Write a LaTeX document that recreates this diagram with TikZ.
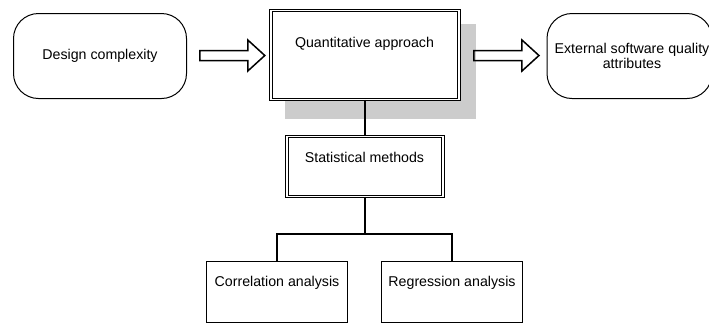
\documentclass[tikz,border=0pt]{standalone}
\usepackage{fontspec}
\setmainfont{Liberation Sans}
\usetikzlibrary{calc}
\begin{document}
\begin{tikzpicture}[x=1pt,y=-1pt,font=\fontsize{14.2}{15}\selectfont]
\tikzset{
  rbox/.style={draw, line width=1pt, rounded corners=25pt, inner sep=0pt, fill=white},
  dbox/.style={draw, double, double distance=1.6pt, line width=0.8pt, inner sep=0pt, fill=white},
  sbox/.style={draw, line width=1pt, inner sep=0pt, fill=white},
  conn/.style={line width=2pt},
  lbl/.style={inner sep=0pt, align=center},
  hollowarrow/.pic={\draw[line width=1.5pt, line join=miter]
     (-29,-5) -- (19,-5) -- (19,-15.5) -- (36,0) -- (19,15.5) -- (19,5) -- (-29,5) -- cycle;}
}
\useasboundingbox (0,0) rectangle (709,325);
% shadow
\fill[black!20] (285,24) rectangle (476,119);
% boxes
\node[rbox, minimum width=173pt, minimum height=85pt] (dc) at (100,56) {};
\node[lbl] (dct) at (100,56) {Design complexity};
\node[dbox, minimum width=188pt, minimum height=89pt] (qa) at (365,55) {};
\node[lbl] (qat) at (364.5,44) {Quantitative approach};
\node[rbox, minimum width=165pt, minimum height=85pt] (ex) at (629.5,56) {};
\node[lbl] (ext) at (632,56) {External software quality\\attributes};
\node[dbox, minimum width=156pt, minimum height=60pt] (sm) at (365,166.5) {};
\node[lbl] (smt) at (364.5,157) {Statistical methods};
\node[sbox, minimum width=141pt, minimum height=61pt] (ca) at (277,292) {};
\node[lbl] (cat) at (277,283) {Correlation analysis};
\node[sbox, minimum width=141pt, minimum height=61pt] (ra) at (452,292) {};
\node[lbl] (rat) at (452,283) {Regression analysis};
% hollow arrows
\coordinate (a1) at ($(dc.east)!0.5!(qa.west)$);
\coordinate (a2) at ($(qa.east)!0.5!(ex.west)$);
\pic at (a1) {hollowarrow};
\pic at (a2) {hollowarrow};
% connectors
\coordinate (j) at (365,234);
\draw[conn] (qa.south) -- (sm.north);
\draw[conn] (sm.south) -- (j);
\draw[conn] (ca.north) |- (ra.north |- j) -- (ra.north);
\end{tikzpicture}
\end{document}
